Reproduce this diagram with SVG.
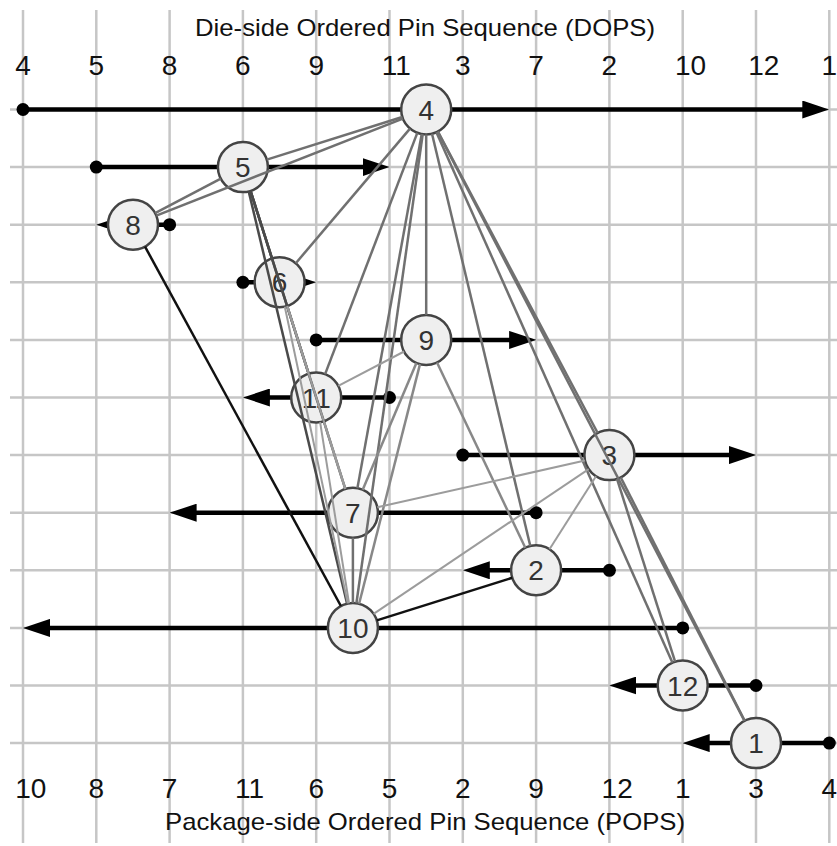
<svg xmlns="http://www.w3.org/2000/svg" width="837" height="846" viewBox="0 0 837 846">
<style>
.grid line{stroke:#c6c6c6;stroke-width:2.5}
.lbl{font-family:"Liberation Sans",Arial,sans-serif;font-size:28px;fill:#111}
.ttl{font-family:"Liberation Sans",Arial,sans-serif;font-size:24px;fill:#111}
.arr{stroke:#000;stroke-width:4.5;fill:none}
.dot{fill:#000}
.node circle{fill:#efefef;stroke:#444;stroke-width:2.5}
.node text{font-family:"Liberation Sans",Arial,sans-serif;font-size:28px;fill:#333;text-anchor:middle}
.e{stroke:#707070;stroke-width:2.5;fill:none}
.e.d{stroke:#4a4a4a}
.e.m{stroke:#888}
.e.l{stroke:#9c9c9c;stroke-width:2}
.e.k{stroke:#111}
</style>
<defs>
<marker id="ah" viewBox="0 0 27 18" refX="7" refY="9" markerWidth="27" markerHeight="18" markerUnits="userSpaceOnUse" orient="auto">
<path d="M0,0 L27,9 L0,18 Z" fill="#000"/>
</marker>
</defs>
<rect width="837" height="846" fill="#fff"/>
<g class="grid">
<line x1="23" y1="10" x2="23" y2="843"/>
<line x1="96.3" y1="10" x2="96.3" y2="843"/>
<line x1="169.6" y1="10" x2="169.6" y2="843"/>
<line x1="242.9" y1="10" x2="242.9" y2="843"/>
<line x1="316.2" y1="10" x2="316.2" y2="843"/>
<line x1="389.5" y1="10" x2="389.5" y2="843"/>
<line x1="462.8" y1="10" x2="462.8" y2="843"/>
<line x1="536.1" y1="10" x2="536.1" y2="843"/>
<line x1="609.4" y1="10" x2="609.4" y2="843"/>
<line x1="682.7" y1="10" x2="682.7" y2="843"/>
<line x1="756" y1="10" x2="756" y2="843"/>
<line x1="829.3" y1="10" x2="829.3" y2="843"/>
<line x1="10" y1="109.5" x2="837" y2="109.5"/>
<line x1="10" y1="167.1" x2="837" y2="167.1"/>
<line x1="10" y1="224.7" x2="837" y2="224.7"/>
<line x1="10" y1="282.3" x2="837" y2="282.3"/>
<line x1="10" y1="339.9" x2="837" y2="339.9"/>
<line x1="10" y1="397.5" x2="837" y2="397.5"/>
<line x1="10" y1="455.1" x2="837" y2="455.1"/>
<line x1="10" y1="512.7" x2="837" y2="512.7"/>
<line x1="10" y1="570.3" x2="837" y2="570.3"/>
<line x1="10" y1="627.9" x2="837" y2="627.9"/>
<line x1="10" y1="685.5" x2="837" y2="685.5"/>
<line x1="10" y1="743.1" x2="837" y2="743.1"/>
</g>
<g id="labels">
<text class="ttl" x="425" y="36" text-anchor="middle" textLength="460" lengthAdjust="spacingAndGlyphs">Die-side Ordered Pin Sequence (DOPS)</text>
<text class="lbl" x="15.2" y="75">4</text>
<text class="lbl" x="88.5" y="75">5</text>
<text class="lbl" x="161.8" y="75">8</text>
<text class="lbl" x="235.1" y="75">6</text>
<text class="lbl" x="308.4" y="75">9</text>
<text class="lbl" x="381.7" y="75">11</text>
<text class="lbl" x="455" y="75">3</text>
<text class="lbl" x="528.3" y="75">7</text>
<text class="lbl" x="601.6" y="75">2</text>
<text class="lbl" x="674.9" y="75">10</text>
<text class="lbl" x="748.2" y="75">12</text>
<text class="lbl" x="821.5" y="75">1</text>
<text class="lbl" x="15.2" y="798">10</text>
<text class="lbl" x="88.5" y="798">8</text>
<text class="lbl" x="161.8" y="798">7</text>
<text class="lbl" x="235.1" y="798">11</text>
<text class="lbl" x="308.4" y="798">6</text>
<text class="lbl" x="381.7" y="798">5</text>
<text class="lbl" x="455" y="798">2</text>
<text class="lbl" x="528.3" y="798">9</text>
<text class="lbl" x="601.6" y="798">12</text>
<text class="lbl" x="674.9" y="798">1</text>
<text class="lbl" x="748.2" y="798">3</text>
<text class="lbl" x="821.5" y="798">4</text>
<text class="ttl" x="425" y="830" text-anchor="middle" textLength="520" lengthAdjust="spacingAndGlyphs">Package-side Ordered Pin Sequence (POPS)</text>
</g>
<g id="arrows">
<line class="arr" x1="23" y1="109.5" x2="809.3" y2="109.5" marker-end="url(#ah)"/>
<line class="arr" x1="96.3" y1="167.1" x2="369.5" y2="167.1" marker-end="url(#ah)"/>
<line class="arr" x1="169.6" y1="224.7" x2="116.3" y2="224.7" marker-end="url(#ah)"/>
<line class="arr" x1="242.9" y1="282.3" x2="296.2" y2="282.3" marker-end="url(#ah)"/>
<line class="arr" x1="316.2" y1="339.9" x2="516.1" y2="339.9" marker-end="url(#ah)"/>
<line class="arr" x1="389.5" y1="397.5" x2="262.9" y2="397.5" marker-end="url(#ah)"/>
<line class="arr" x1="462.8" y1="455.1" x2="736" y2="455.1" marker-end="url(#ah)"/>
<line class="arr" x1="536.1" y1="512.7" x2="189.6" y2="512.7" marker-end="url(#ah)"/>
<line class="arr" x1="609.4" y1="570.3" x2="482.8" y2="570.3" marker-end="url(#ah)"/>
<line class="arr" x1="682.7" y1="627.9" x2="43" y2="627.9" marker-end="url(#ah)"/>
<line class="arr" x1="756" y1="685.5" x2="629.4" y2="685.5" marker-end="url(#ah)"/>
<line class="arr" x1="829.3" y1="743.1" x2="702.7" y2="743.1" marker-end="url(#ah)"/>
<circle class="dot" cx="23" cy="109.5" r="6.5"/>
<circle class="dot" cx="96.3" cy="167.1" r="6.5"/>
<circle class="dot" cx="169.6" cy="224.7" r="6.5"/>
<circle class="dot" cx="242.9" cy="282.3" r="6.5"/>
<circle class="dot" cx="316.2" cy="339.9" r="6.5"/>
<circle class="dot" cx="389.5" cy="397.5" r="6.5"/>
<circle class="dot" cx="462.8" cy="455.1" r="6.5"/>
<circle class="dot" cx="536.1" cy="512.7" r="6.5"/>
<circle class="dot" cx="609.4" cy="570.3" r="6.5"/>
<circle class="dot" cx="682.7" cy="627.9" r="6.5"/>
<circle class="dot" cx="756" cy="685.5" r="6.5"/>
<circle class="dot" cx="829.3" cy="743.1" r="6.5"/>
</g>
<g id="nodes">
<g id="node4" class="node"><circle cx="426.2" cy="109.5" r="25"/><text x="426.2" y="119.5">4</text></g>
<g id="node5" class="node"><circle cx="242.9" cy="167.1" r="25"/><text x="242.9" y="177.1">5</text></g>
<g id="node8" class="node"><circle cx="133" cy="224.7" r="25"/><text x="133" y="234.7">8</text></g>
<g id="node6" class="node"><circle cx="279.6" cy="282.3" r="25"/><text x="279.6" y="292.3">6</text></g>
<g id="node9" class="node"><circle cx="426.2" cy="339.9" r="25"/><text x="426.2" y="349.9">9</text></g>
<g id="node11" class="node"><circle cx="316.2" cy="397.5" r="25"/><text x="316.2" y="407.5">11</text></g>
<g id="node3" class="node"><circle cx="609.4" cy="455.1" r="25"/><text x="609.4" y="465.1">3</text></g>
<g id="node7" class="node"><circle cx="352.9" cy="512.7" r="25"/><text x="352.9" y="522.7">7</text></g>
<g id="node2" class="node"><circle cx="536.1" cy="570.3" r="25"/><text x="536.1" y="580.3">2</text></g>
<g id="node10" class="node"><circle cx="352.9" cy="627.9" r="25"/><text x="352.9" y="637.9">10</text></g>
<g id="node12" class="node"><circle cx="682.7" cy="685.5" r="25"/><text x="682.7" y="695.5">12</text></g>
<g id="node1" class="node"><circle cx="756" cy="743.1" r="25"/><text x="756" y="753.1">1</text></g>
</g>
<g id="connectors">
<line class="e" x1="402.3" y1="117" x2="266.8" y2="159.6"/>
<line class="e" x1="402.9" y1="118.6" x2="156.3" y2="215.6"/>
<line class="e" x1="410" y1="128.6" x2="295.8" y2="263.2"/>
<line class="e" x1="426.2" y1="134.5" x2="426.2" y2="314.9"/>
<line class="e" x1="417.3" y1="132.9" x2="325.1" y2="374.1"/>
<line class="e" x1="437.9" y1="131.6" x2="597.7" y2="433"/>
<line class="e" x1="421.7" y1="134.1" x2="357.4" y2="488.1"/>
<line class="e" x1="432" y1="133.8" x2="530.3" y2="546"/>
<line class="e" x1="422.7" y1="134.3" x2="356.4" y2="603.2"/>
<line class="e" x1="436.4" y1="132.3" x2="672.5" y2="662.7"/>
<line class="e" x1="437.7" y1="131.7" x2="744.5" y2="720.9"/>
<line class="e" x1="220.8" y1="178.7" x2="155.1" y2="213.1"/>
<line class="e d" x1="250.5" y1="190.9" x2="272" y2="258.5"/>
<line class="e d" x1="250.5" y1="190.9" x2="308.6" y2="373.7"/>
<line class="e d" x1="250.5" y1="190.9" x2="345.3" y2="488.9"/>
<line class="e d" x1="248.7" y1="191.4" x2="347.1" y2="603.6"/>
<line class="e k" x1="145" y1="246.6" x2="340.9" y2="606"/>
<line class="e l" x1="287.2" y1="306.1" x2="308.6" y2="373.7"/>
<line class="e l" x1="287.2" y1="306.1" x2="345.3" y2="488.9"/>
<line class="e l" x1="284.8" y1="306.8" x2="347.7" y2="603.4"/>
<line class="e l" x1="404.1" y1="351.5" x2="338.3" y2="385.9"/>
<line class="e m" x1="416.4" y1="362.9" x2="362.7" y2="489.7"/>
<line class="e m" x1="437" y1="362.5" x2="525.3" y2="547.7"/>
<line class="e m" x1="420" y1="364.1" x2="359.1" y2="603.7"/>
<line class="e l" x1="323.8" y1="421.3" x2="345.3" y2="488.9"/>
<line class="e l" x1="320.1" y1="422.2" x2="349" y2="603.2"/>
<line class="e l" x1="585" y1="460.6" x2="377.3" y2="507.2"/>
<line class="e l" x1="596" y1="476.2" x2="549.5" y2="549.2"/>
<line class="e l" x1="588.7" y1="469.1" x2="373.6" y2="613.9"/>
<line class="e" x1="617" y1="478.9" x2="675.1" y2="661.7"/>
<line class="e" x1="620.7" y1="477.4" x2="744.7" y2="720.8"/>
<line class="e" x1="352.9" y1="537.7" x2="352.9" y2="602.9"/>
<line class="e k" x1="512.2" y1="577.8" x2="376.8" y2="620.4"/>
</g>
</svg>
